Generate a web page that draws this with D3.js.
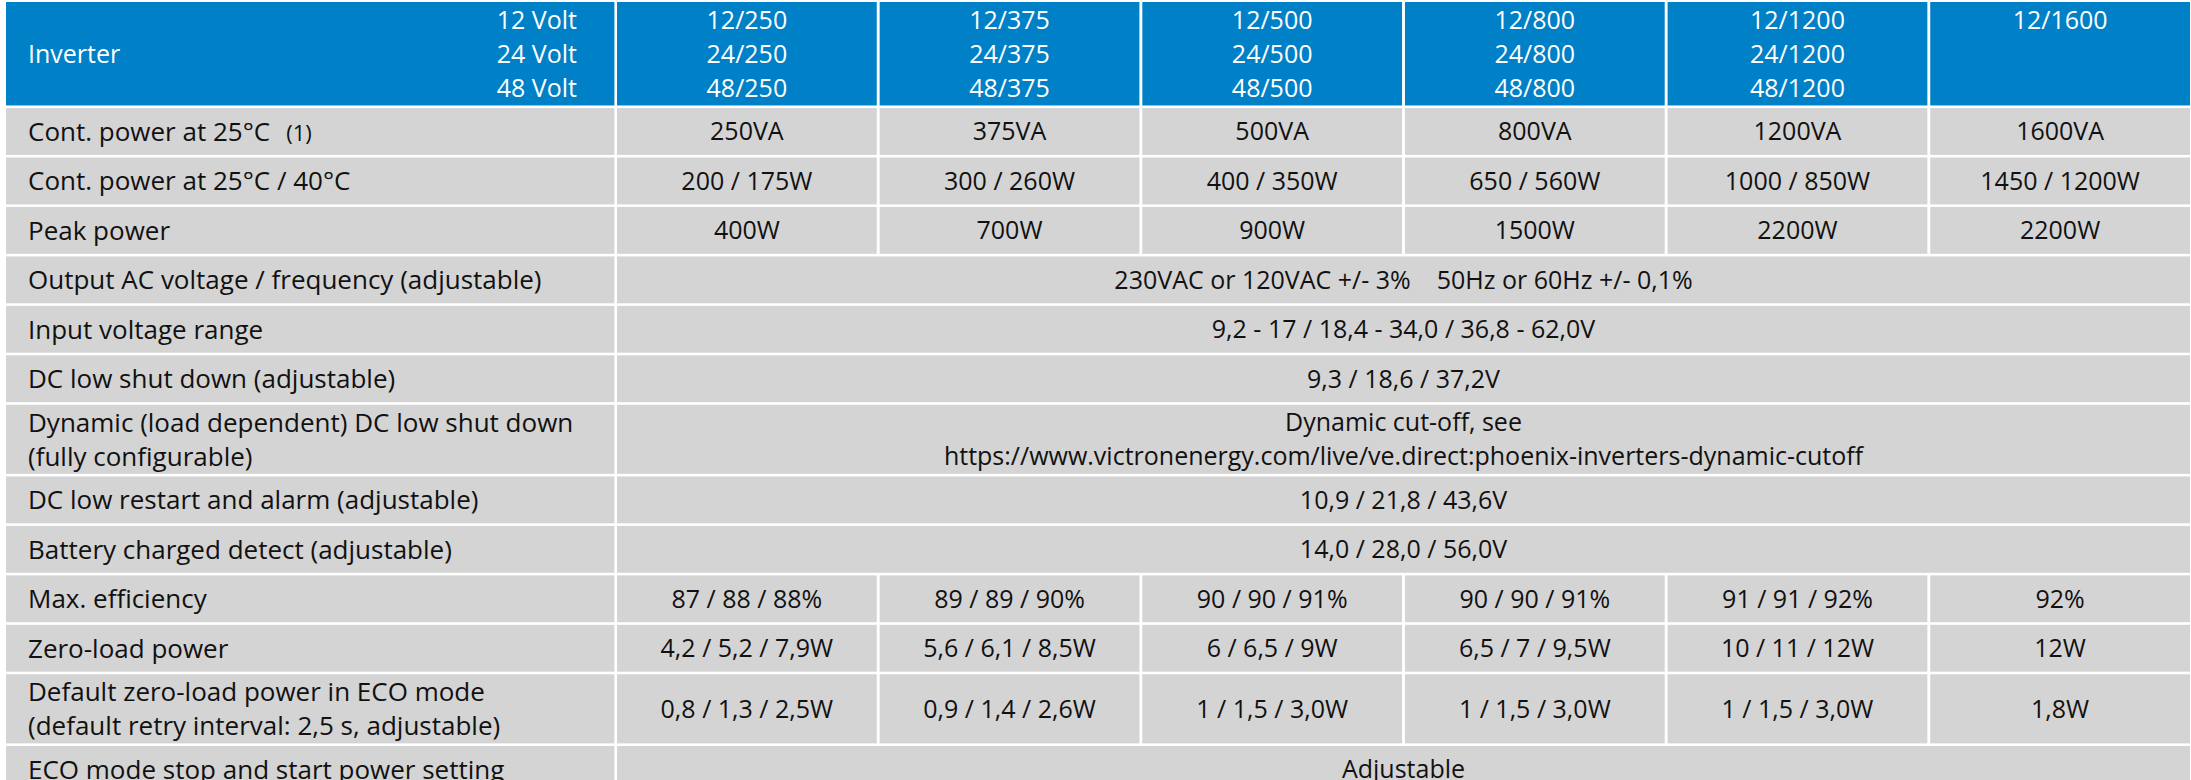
<!DOCTYPE html>
<html>
<head>
<meta charset="utf-8">
<script src="https://cdn.jsdelivr.net/npm/d3@7"></script>
<style>
  body { margin: 0; background: #fff; }
  svg text { font-family: "Open Sans", sans-serif; font-size: 25px; }
  svg text.et { font-size: 26px; }
</style>
</head>
<body>
<div id="tabla"></div>
<script>
// encabezado: voltajes y modelos por columna
const voltajes = ["12 Volt", "24 Volt", "48 Volt"]
const modelos = [
  ["12/250", "24/250", "48/250"],
  ["12/375", "24/375", "48/375"],
  ["12/500", "24/500", "48/500"],
  ["12/800", "24/800", "48/800"],
  ["12/1200", "24/1200", "48/1200"],
  ["12/1600"]
]

// etiquetas de cada fila (una linea o dos)
const etiquetas = [
  ["Cont. power at 25°C"],
  ["Cont. power at 25°C / 40°C"],
  ["Peak power"],
  ["Output AC voltage / frequency (adjustable)"],
  ["Input voltage range"],
  ["DC low shut down (adjustable)"],
  ["Dynamic (load dependent) DC low shut down", "(fully configurable)"],
  ["DC low restart and alarm (adjustable)"],
  ["Battery charged detect (adjustable)"],
  ["Max. efficiency"],
  ["Zero-load power"],
  ["Default zero-load power in ECO mode", "(default retry interval: 2,5 s, adjustable)"],
  ["ECO mode stop and start power setting"]
]
const nota = "(1)"

// valores por modelo
const potenciaCont = ["250VA", "375VA", "500VA", "800VA", "1200VA", "1600VA"]
const potencia2540 = ["200 / 175W", "300 / 260W", "400 / 350W", "650 / 560W", "1000 / 850W", "1450 / 1200W"]
const potenciaPico = ["400W", "700W", "900W", "1500W", "2200W", "2200W"]
const eficiencia = ["87 / 88 / 88%", "89 / 89 / 90%", "90 / 90 / 91%", "90 / 90 / 91%", "91 / 91 / 92%", "92%"]
const consumoVacio = ["4,2 / 5,2 / 7,9W", "5,6 / 6,1 / 8,5W", "6 / 6,5 / 9W", "6,5 / 7 / 9,5W", "10 / 11 / 12W", "12W"]
const consumoEco = ["0,8 / 1,3 / 2,5W", "0,9 / 1,4 / 2,6W", "1 / 1,5 / 3,0W", "1 / 1,5 / 3,0W", "1 / 1,5 / 3,0W", "1,8W"]

// valores comunes a todos los modelos
const salidaAC = ["230VAC or 120VAC +/- 3%    50Hz or 60Hz +/- 0,1%"]
const rangoEntrada = ["9,2 - 17 / 18,4 - 34,0 / 36,8 - 62,0V"]
const cortePorBaja = ["9,3 / 18,6 / 37,2V"]
const corteDinamico = ["Dynamic cut-off, see", "https://www.victronenergy.com/live/ve.direct:phoenix-inverters-dynamic-cutoff"]
const reinicioAlarma = ["10,9 / 21,8 / 43,6V"]
const bateriaCargada = ["14,0 / 28,0 / 56,0V"]
const modoEco = ["Adjustable"]

const valores = [
  potenciaCont, potencia2540, potenciaPico,
  salidaAC, rangoEntrada, cortePorBaja, corteDinamico, reinicioAlarma, bateriaCargada,
  eficiencia, consumoVacio, consumoEco,
  modoEco
]
// filas donde el valor ocupa todas las columnas
const comunes = [salidaAC, rangoEntrada, cortePorBaja, corteDinamico, reinicioAlarma, bateriaCargada, modoEco]

const anchoTotal = 2191
const altoTotal = 780
const azul = "#0080c6"
const gris = "#d4d4d4"
const hueco = 2.6
const interlinea = 34

const svg = d3.select("#tabla")
  .append("svg")
  .attr("width", anchoTotal)
  .attr("height", altoTotal)

// Escaladores
const x = d3.scaleBand()
  .domain(d3.range(modelos.length))
  .range([617, 2190])
  .paddingInner(0.011)
  .paddingOuter(0)

// unidades de alto: encabezado 2.145, fila simple 1, fila doble 1.45
const unidad = d3.scaleLinear().domain([0, 1]).range([0, 49.45])
const altoFila = (lineas) => lineas > 1 ? 1.45 : 1

let acumulado = 2.145
const filas = etiquetas.map((et, i) => {
  const comun = comunes.includes(valores[i])
  const lineas = Math.max(et.length, comun ? valores[i].length : 1)
  const f = {
    etiqueta: et,
    valores: valores[i],
    comun: comun,
    desde: acumulado,
    alto: altoFila(lineas)
  }
  acumulado += f.alto
  return f
})
const y = (u) => 2 + unidad(u)

// Encabezado
const enc = svg.append("g")
enc.append("rect")
  .attr("x", 6).attr("y", y(0))
  .attr("width", x(0) - hueco - 6)
  .attr("height", unidad(2.145) - hueco)
  .attr("fill", azul)
const centroEnc = y(0) + (unidad(2.145) - hueco) / 2

enc.append("text")
  .attr("x", 28).attr("y", centroEnc)
  .attr("dy", "0.36em")
  .attr("fill", "#fff")
  .text("Inverter")

enc.selectAll(".volt")
  .data(voltajes)
  .enter()
  .append("text")
  .attr("x", 577)
  .attr("y", (d, i) => centroEnc + (i - 1) * interlinea)
  .attr("dy", "0.36em")
  .attr("text-anchor", "end")
  .attr("fill", "#fff")
  .text(d => d)

const colEnc = enc.selectAll(".col")
  .data(modelos)
  .enter()
  .append("g")

colEnc.append("rect")
  .attr("x", (d, i) => x(i))
  .attr("y", y(0))
  .attr("width", x.bandwidth())
  .attr("height", unidad(2.145) - hueco)
  .attr("fill", azul)

colEnc.selectAll("text")
  .data((d, i) => d.map(t => ({ t, i })))
  .enter()
  .append("text")
  .attr("x", d => x(d.i) + x.bandwidth() / 2)
  .attr("y", (d, j) => centroEnc + (j - 1) * interlinea)
  .attr("dy", "0.36em")
  .attr("text-anchor", "middle")
  .attr("fill", "#fff")
  .text(d => d.t)

// Filas del cuerpo
const g = svg.selectAll(".fila")
  .data(filas)
  .enter()
  .append("g")
  .attr("class", "fila")

const centroFila = (f) => y(f.desde) + (unidad(f.alto) - hueco) / 2

g.append("rect")
  .attr("x", 6)
  .attr("y", f => y(f.desde))
  .attr("width", x(0) - hueco - 6)
  .attr("height", f => unidad(f.alto) - hueco)
  .attr("fill", gris)

g.each(function (f, k) {
  const fila = d3.select(this)
  const c = centroFila(f)
  const desplazar = (n, j) => (j - (n - 1) / 2) * interlinea

  // etiqueta
  const et = fila.selectAll(".et")
    .data(f.etiqueta)
    .enter()
    .append("text")
    .attr("class", "et")
    .attr("x", 28)
    .attr("y", (d, j) => c + desplazar(f.etiqueta.length, j))
    .attr("dy", "0.36em")
    .attr("fill", "#111")
    .text(d => d)
  if (k === 0) {
    et.append("tspan")
      .attr("dx", 16)
      .style("font-size", "22px")
      .text(nota)
  }

  if (f.comun) {
    fila.append("rect")
      .attr("x", x(0))
      .attr("y", y(f.desde))
      .attr("width", x(modelos.length - 1) + x.bandwidth() - x(0))
      .attr("height", unidad(f.alto) - hueco)
      .attr("fill", gris)
    const centroX = (x(0) + x(modelos.length - 1) + x.bandwidth()) / 2
    fila.selectAll(".val")
      .data(f.valores)
      .enter()
      .append("text")
      .attr("x", centroX)
      .attr("y", (d, j) => c + desplazar(f.valores.length, j))
      .attr("dy", "0.36em")
      .attr("text-anchor", "middle")
      .attr("fill", "#111")
      .style("white-space", "pre")
      .text(d => d)
  } else {
    fila.selectAll(".celda")
      .data(f.valores)
      .enter()
      .append("rect")
      .attr("x", (d, i) => x(i))
      .attr("y", y(f.desde))
      .attr("width", x.bandwidth())
      .attr("height", unidad(f.alto) - hueco)
      .attr("fill", gris)
    fila.selectAll(".val")
      .data(f.valores)
      .enter()
      .append("text")
      .attr("x", (d, i) => x(i) + x.bandwidth() / 2)
      .attr("y", c)
      .attr("dy", "0.36em")
      .attr("text-anchor", "middle")
      .attr("fill", "#111")
      .text(d => d)
  }
})
</script>
</body>
</html>
